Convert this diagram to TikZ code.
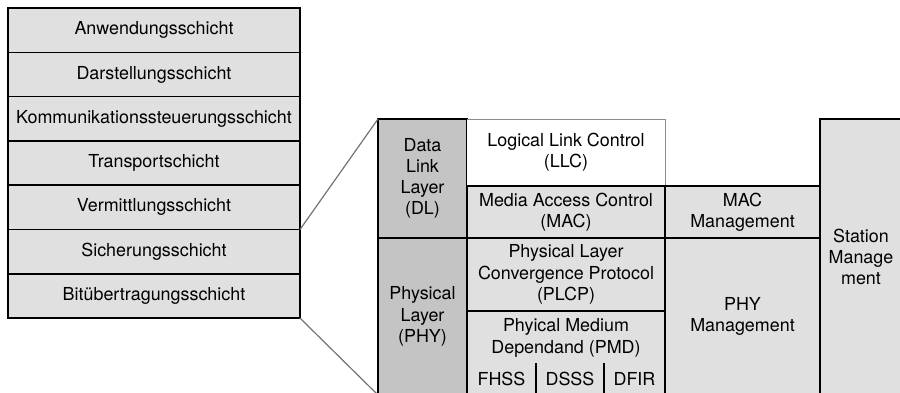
\documentclass[tikz,border=0pt]{standalone}
\usepackage{fontspec}
\setmainfont{TeX Gyre Heros}
\usetikzlibrary{positioning}
\definecolor{hellgrau}{RGB}{224,224,224}
\definecolor{dunkelgrau}{RGB}{196,196,196}
\tikzstyle{schicht} = [rectangle, 
minimum width=146pt, 
minimum height=22.15pt,
inner sep=0pt, outer sep=0pt,
text centered, 
line width=0.75pt,
draw=black, fill=hellgrau]
\tikzstyle{layerbox} = [rectangle, 
minimum width=44.5pt, 
inner sep=0pt, outer sep=0pt,
align=center, 
line width=0.8pt,
draw=black, fill=dunkelgrau]
\tikzstyle{sublayer} = [rectangle, 
minimum width=99pt, 
inner sep=0pt, outer sep=0pt,
align=center, 
line width=0.8pt,
draw=black, fill=hellgrau]
\tikzstyle{mgmt} = [rectangle, 
minimum width=77.5pt, 
inner sep=0pt, outer sep=0pt,
align=center, 
line width=0.8pt,
draw=black, fill=hellgrau]
\tikzstyle{cell} = [rectangle, 
minimum height=16pt, 
inner sep=0pt, outer sep=0pt]
\tikzstyle{thinborder} = [draw=black!45, line width=0.4pt]
\tikzstyle{connector} = [draw=black!55, line width=0.6pt]

\begin{document}
\begin{tikzpicture}[x=0.5pt, y=-0.5pt, font=\fontsize{8.95}{10.6}\selectfont]
\useasboundingbox (0,0) rectangle (900,392);

% OSI stack
\node (anw) [schicht, anchor=north west] at (8,8) {Anwendungsschicht};
\node (dar) [schicht, below=0pt of anw] {Darstellungsschicht};
\node (kom) [schicht, below=0pt of dar] {Kommunikationssteuerungsschicht};
\node (tra) [schicht, below=0pt of kom] {Transportschicht};
\node (ver) [schicht, below=0pt of tra] {Vermittlungsschicht};
\node (sic) [schicht, below=0pt of ver] {Sicherungsschicht};
\node (bit) [schicht, below=0pt of sic] {Bitübertragungsschicht};

% IEEE 802.11 layers
\node (dl) [layerbox, minimum height=59.5pt, anchor=north west] at (378,119) {Data\\Link\\Layer\\(DL)};
\node (phy) [layerbox, minimum height=78.5pt, below=0pt of dl] {Physical\\Layer\\(PHY)};

\node (llc) [sublayer, draw=none, fill=white, minimum height=33.5pt, anchor=north west] at (dl.north east) {Logical Link Control\\(LLC)};
\draw [thinborder] (llc.north west) -- (llc.north east) -- (llc.south east);
\node (mac) [sublayer, minimum height=26pt, below=0pt of llc] {Media Access Control\\(MAC)};
\node (plcp) [sublayer, minimum height=36.5pt, below=0pt of mac] {Physical Layer\\Convergence Protocol\\(PLCP)};
\node (pmd) [sublayer, minimum height=42pt, below=0pt of plcp] {};
\node (pmdtext) [align=center, inner sep=0pt] at ([yshift=-13.5pt]pmd.north) {Phyical Medium\\Dependand (PMD)};

\node (fhss) [cell, minimum width=34.5pt, anchor=south west] at (pmd.south west) {FHSS};
\node (dsss) [cell, minimum width=34pt, right=0pt of fhss] {DSSS};
\node (dfir) [cell, minimum width=30.5pt, right=0pt of dsss] {DFIR};
\draw [line width=0.8pt] (fhss.north east) -- (fhss.south east);
\draw [line width=0.8pt] (dsss.north east) -- (dsss.south east);

\node (macm) [mgmt, minimum height=26pt, anchor=north west] at (mac.north east) {MAC\\Management};
\node (phym) [mgmt, minimum height=78.5pt, below=0pt of macm] {PHY\\Management};
\node (sta) [mgmt, minimum width=41pt, minimum height=138pt, anchor=north west] at (macm.north east |- dl.north) {Station\\Manage\\ment};

\draw [connector] (sic.north east) -- (dl.north west);
\draw [connector] (bit.south east) -- (phy.south west);

\end{tikzpicture}
\end{document}
